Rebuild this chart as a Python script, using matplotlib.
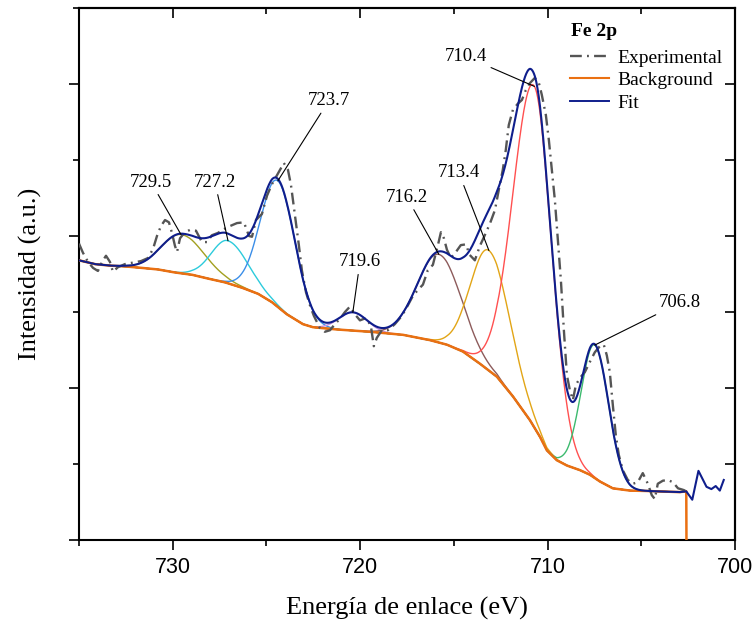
import numpy as np
import matplotlib
matplotlib.use("Agg")
import matplotlib.pyplot as plt
from matplotlib.ticker import MultipleLocator, NullFormatter
from matplotlib.lines import Line2D

# ---------------- data ----------------
# Background (Shirley-type), binding energy (eV) vs intensity (a.u.)
bg_E = [735.00, 734.15, 733.35, 732.55, 731.64, 730.79, 729.88, 728.97, 728.12,
        727.21, 726.31, 725.45, 724.71, 723.91, 723.05, 722.52, 721.24, 719.48,
        717.72, 716.28, 715.37, 714.52, 713.61, 712.71, 711.85, 710.95, 710.41,
        710.04, 709.51, 708.97, 708.28, 707.75, 707.21, 706.52, 705.61, 704.71,
        702.95, 702.60, 702.59]
bg_I = [3.68, 3.63, 3.61, 3.60, 3.58, 3.56, 3.52, 3.49, 3.44,
        3.39, 3.32, 3.24, 3.13, 2.97, 2.84, 2.80, 2.77, 2.74,
        2.70, 2.63, 2.57, 2.48, 2.32, 2.15, 1.89, 1.58, 1.36,
        1.18, 1.05, 0.98, 0.92, 0.86, 0.77, 0.68, 0.65, 0.645,
        0.63, 0.64, 0.0]

# Experimental spectrum
exp_E = [735.00, 734.79, 734.52, 734.25, 733.99, 733.77, 733.56, 733.35, 733.19, 732.92,
         732.55, 732.12, 731.69, 731.32, 731.05, 730.84, 730.63, 730.41, 730.20, 730.04,
         729.88, 729.77, 729.61, 729.35, 729.08, 728.76, 728.44, 728.17, 727.91, 727.59,
         727.27, 726.95, 726.57, 726.20, 725.93, 725.77, 725.56, 725.24, 724.97, 724.71,
         724.39, 724.07, 723.85, 723.69, 723.48, 723.27, 723.11, 722.89, 722.68, 722.47,
         722.15, 721.88, 721.61, 721.35, 721.08, 720.81, 720.55, 720.28, 720.01, 719.69,
         719.43, 719.27, 719.11, 718.84, 718.52, 718.15, 717.77, 717.45, 717.19, 716.92,
         716.65, 716.39, 716.12, 715.85, 715.69, 715.53, 715.37, 715.16, 714.89, 714.63,
         714.36, 714.15, 713.88, 713.61, 713.35, 713.08, 712.81, 712.60, 712.39, 712.23,
         712.07, 711.85, 711.59, 711.37, 711.16, 710.95, 710.68, 710.47, 710.31, 710.09,
         709.93, 709.77, 709.61, 709.45, 709.29, 709.13, 708.97, 708.81, 708.65, 708.49,
         708.28, 708.01, 707.75, 707.48, 707.21, 707.00, 706.84, 706.68, 706.52, 706.36,
         706.20, 705.99, 705.72, 705.45, 705.19, 704.92, 704.65, 704.44, 704.28, 704.12,
         703.85, 703.59, 703.31, 703.04, 702.77, 702.61]
exp_I = [3.90, 3.78, 3.66, 3.58, 3.54, 3.66, 3.74, 3.66, 3.53, 3.59,
         3.63, 3.65, 3.67, 3.71, 3.83, 4.00, 4.13, 4.21, 4.18, 4.04,
         3.87, 3.79, 3.97, 4.05, 4.08, 4.07, 3.92, 3.92, 4.01, 4.04,
         4.09, 4.13, 4.17, 4.18, 4.00, 3.99, 4.21, 4.29, 4.53, 4.68,
         4.82, 4.96, 4.87, 4.67, 4.28, 3.88, 3.55, 3.26, 3.09, 2.95,
         2.79, 2.74, 2.76, 2.84, 2.91, 3.00, 3.07, 2.97, 2.89, 2.92,
         2.82, 2.55, 2.66, 2.76, 2.76, 2.84, 2.95, 3.09, 3.21, 3.29,
         3.36, 3.55, 3.62, 3.88, 4.05, 3.97, 3.82, 3.71, 3.79, 3.88,
         3.89, 3.75, 3.68, 3.87, 4.01, 4.16, 4.34, 4.61, 4.87, 5.13,
         5.46, 5.66, 5.74, 5.79, 5.92, 6.01, 6.08, 6.02, 5.86, 5.59,
         5.26, 4.87, 4.47, 3.95, 3.42, 2.76, 2.17, 1.97, 1.84, 2.04,
         2.13, 2.21, 2.34, 2.47, 2.55, 2.57, 2.43, 2.21, 1.78, 1.38,
         1.12, 0.92, 0.79, 0.74, 0.76, 0.88, 0.74, 0.59, 0.54, 0.74,
         0.78, 0.79, 0.76, 0.68, 0.66, 0.645]

# Fitted components: label, centre (eV), height above background, widths
peak_labels = ["729.5", "727.2", "723.7", "719.6", "716.2", "713.4", "710.4", "706.8"]
peak_center = [729.56, 727.05, 724.39, 720.39, 715.80, 713.13, 710.70, 707.48]
peak_height = [0.51, 0.56, 1.66, 0.24, 1.16, 1.58, 4.49, 1.75]
peak_sigma_high = [1.05, 0.90, 0.92, 0.75, 1.15, 0.98, 1.13, 0.72]   # high-BE side
peak_sigma_low = [1.25, 1.07, 0.93, 0.75, 1.18, 1.12, 0.93, 0.75]    # low-BE side
peak_colors = ["#a3a020", "#2ccbdc", "#3b8ee8", "#c58ee0", "#8d5b5b", "#e2a516",
               "#ff5050", "#3cba6e"]

# Fit envelope measured beyond the background window
fit_tail_E = [702.28, 701.95, 701.52, 701.26, 701.03, 700.81, 700.60]
fit_tail_I = [0.53, 0.91, 0.70, 0.67, 0.71, 0.65, 0.79]

# annotation text positions (eV, intensity)
label_pos = [(731.16, 4.71), (727.75, 4.71), (721.67, 5.78), (720.01, 3.66),
             (717.51, 4.51), (714.73, 4.83), (714.36, 6.36), (702.95, 3.12)]

# ---------------- model curves ----------------
bgE_asc = np.array(bg_E[:-1])[::-1]
bgI_asc = np.array(bg_I[:-1])[::-1]
grid = np.linspace(bg_E[0], bg_E[-2], 1500)
bg_grid = np.interp(grid, bgE_asc, bgI_asc)


def comp(E, c, h, s_hi, s_lo):
    s = np.where(E >= c, s_hi, s_lo)
    return h * np.exp(-0.5 * ((E - c) / s) ** 2)


comps = [comp(grid, c, h, a, b) for c, h, a, b in
         zip(peak_center, peak_height, peak_sigma_high, peak_sigma_low)]
fit_grid = bg_grid + np.sum(comps, axis=0)
fit_E = np.concatenate([grid, fit_tail_E])
fit_I = np.concatenate([fit_grid, fit_tail_I])

# ---------------- figure ----------------
serif = ["Liberation Serif", "DejaVu Serif"]
sans = ["Liberation Sans", "DejaVu Sans"]
EXP_STYLE = (0, (5, 2.2, 0.8, 2.2))

fig = plt.figure(figsize=(7.54, 6.25), dpi=100)
ax = fig.add_axes([79 / 754, 85 / 625, 656 / 754, 532 / 625])

for cmp, col in zip(comps, peak_colors):
    ax.plot(grid, bg_grid + cmp, color=col, lw=1.0, zorder=2)

ax.plot(bg_E, bg_I, color="#ea7012", lw=1.8, zorder=3)
ax.plot(exp_E, exp_I, color="#555555", lw=1.7, zorder=4, linestyle=EXP_STYLE)
ax.plot(fit_E, fit_I, color="#0f1e8c", lw=1.5, zorder=5)

for lab, c, h, pos in zip(peak_labels, peak_center, peak_height, label_pos):
    top = np.interp(c, bgE_asc, bgI_asc) + h
    ax.annotate(lab, xy=(c, top), xytext=pos, ha="center", va="center",
                fontsize=13.5, family=serif,
                arrowprops=dict(arrowstyle="-", color="black", lw=0.8,
                                shrinkA=1, shrinkB=0), zorder=6)

ax.set_xlim(735, 700)
ax.set_ylim(0, 7)

ax.xaxis.set_major_locator(MultipleLocator(10))
ax.xaxis.set_minor_locator(MultipleLocator(5))
ax.yaxis.set_major_locator(MultipleLocator(2))
ax.yaxis.set_minor_locator(MultipleLocator(1))
ax.yaxis.set_major_formatter(NullFormatter())
ax.tick_params(which="both", direction="out", width=1.2, top=False, right=False)
ax.tick_params(which="major", length=7)
ax.tick_params(which="minor", length=4.5)
ax.tick_params(axis="x", labelsize=15.5, pad=5)
for t in ax.get_xticklabels():
    t.set_family(sans)

secx = ax.secondary_xaxis("top")
secx.xaxis.set_major_locator(MultipleLocator(10))
secx.xaxis.set_minor_locator(MultipleLocator(5))
secx.tick_params(which="both", direction="in", width=1.2, labeltop=False)
secx.tick_params(which="major", length=7)
secx.tick_params(which="minor", length=4.5)
secy = ax.secondary_yaxis("right")
secy.yaxis.set_major_locator(MultipleLocator(2))
secy.yaxis.set_minor_locator(MultipleLocator(1))
secy.tick_params(which="both", direction="in", width=1.2, labelright=False)
secy.tick_params(which="major", length=7)
secy.tick_params(which="minor", length=7)

for a in (ax, secx, secy):
    for sp in a.spines.values():
        sp.set_linewidth(1.5)

ax.set_xlabel("Energía de enlace (eV)", family=serif, fontsize=19, labelpad=14)
ax.set_ylabel("Intensidad (a.u.)", family=serif, fontsize=19, labelpad=16)

# legend title as separate bold text, legend entries below it
ax.text(0.75, 0.955, "Fe 2p", transform=ax.transAxes, ha="left", va="center",
        family=serif, fontsize=14, fontweight="bold")
handles = [Line2D([], [], color="#555555", lw=1.7, linestyle=EXP_STYLE),
           Line2D([], [], color="#ea7012", lw=1.5),
           Line2D([], [], color="#0f1e8c", lw=1.4)]
leg = ax.legend(handles, ["Experimental", "Background", "Fit"],
                loc="upper left", bbox_to_anchor=(0.742, 0.93),
                frameon=False, prop={"family": serif, "size": 14},
                handlelength=2.0, handletextpad=0.45,
                labelspacing=0.25, borderpad=0.2, borderaxespad=0)

fig.savefig("out.png", dpi=100)
